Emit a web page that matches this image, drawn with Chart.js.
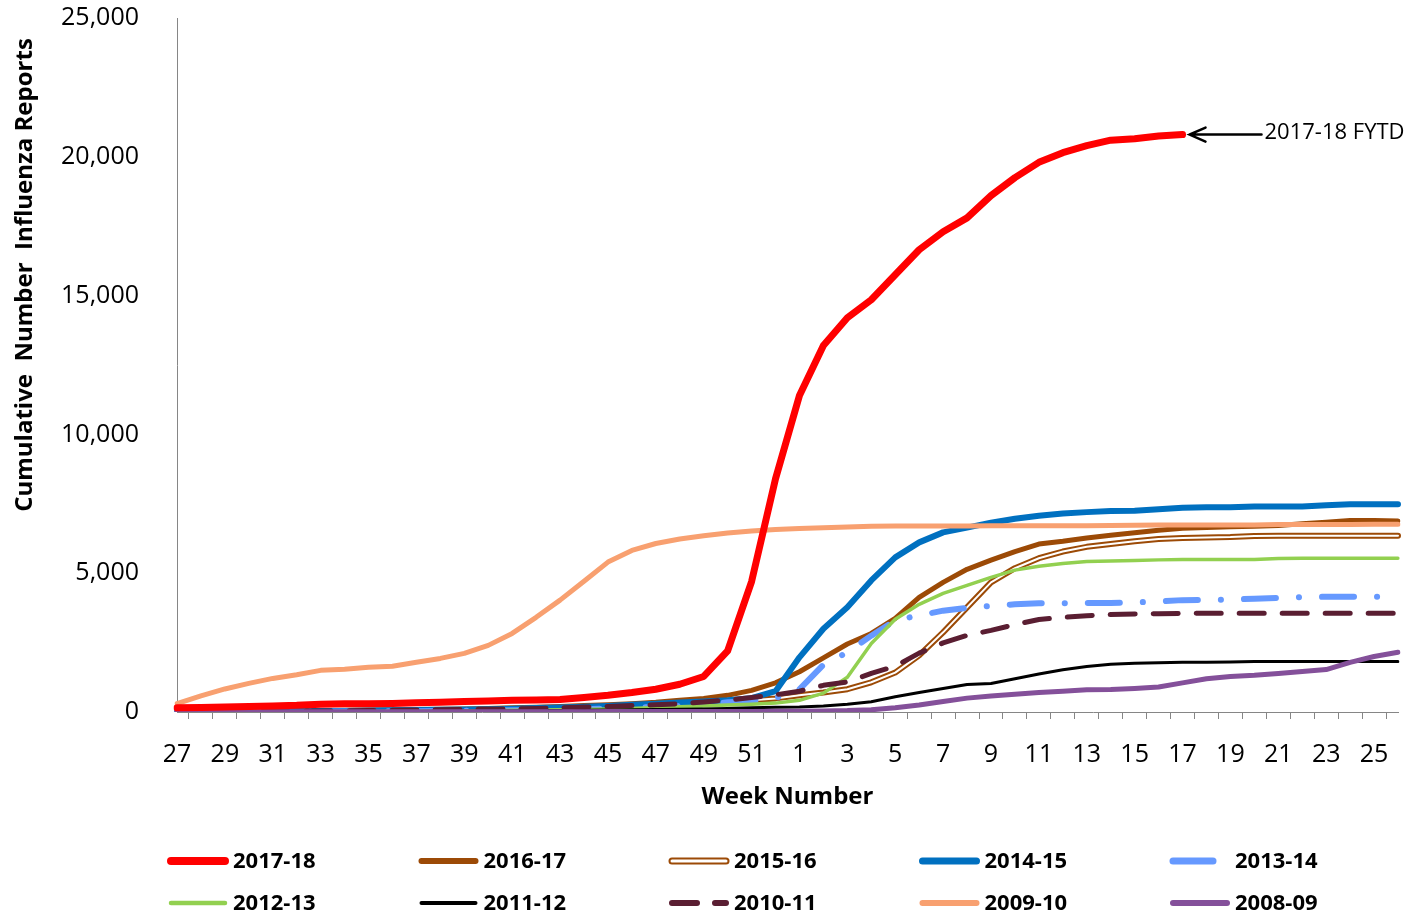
<!DOCTYPE html>
<html>
<head>
<meta charset="utf-8">
<title>Cumulative Number Influenza Reports</title>
<script src="https://cdn.jsdelivr.net/npm/chart.js@4.4.1/dist/chart.umd.min.js"></script>
<style>
    html, body { margin: 0; padding: 0; background: #ffffff; }
    #wrap { width: 1416px; height: 918px; }
</style>
</head>
<body>
<div id="wrap"><canvas id="fluChart" width="1416" height="918"></canvas></div>
<script>
// week numbers, July (27) through June (26)
const weeks = ['27','28','29','30','31','32','33','34','35','36','37','38','39','40','41','42','43','44','45','46','47','48','49','50','51','52',
               '1','2','3','4','5','6','7','8','9','10','11','12','13','14','15','16','17','18','19','20','21','22','23','24','25','26'];

// cumulative reports per season (first 26 values = wk27-52, rest = wk1-26)
const s1718 = [150,160,180,200,220,240,280,300,300,310,330,350,380,400,420,430,450,520,600,700,820,1000,1280,2200,4700,8400,
               11400,13200,14200,14850,15750,16650,17300,17800,18600,19250,19800,20150,20400,20600,20650,20750,20800];
const s1617 = [20,25,30,35,40,50,55,60,70,80,90,100,110,130,150,170,200,230,260,300,350,420,490,600,780,1050,
               1450,1950,2450,2830,3370,4130,4670,5140,5470,5780,6050,6150,6270,6370,6460,6550,6620,6650,6670,6690,6720,6780,6840,6900,6900,6880];
const s1516 = [10,10,10,20,20,20,30,30,40,40,50,60,70,80,90,100,110,130,150,170,200,240,290,350,420,490,
               600,700,820,1070,1420,2040,2870,3770,4670,5180,5540,5780,5950,6050,6150,6230,6270,6290,6300,6340,6350,6350,6350,6350,6350,6350];
const s1415 = [10,10,20,20,30,30,40,40,50,60,70,80,90,100,120,140,160,190,220,260,300,340,380,420,500,750,
               1970,3000,3770,4740,5570,6110,6470,6640,6820,6960,7070,7150,7200,7240,7250,7300,7360,7380,7380,7400,7400,7400,7450,7480,7480,7480];
const s1314 = [0,0,0,10,10,10,20,20,20,30,30,40,40,50,60,70,80,100,120,150,180,220,260,350,380,500,
               820,1700,2150,2750,3300,3480,3650,3750,3820,3880,3920,3920,3930,3930,3950,3980,4030,4040,4050,4080,4110,4140,4150,4150,4150,4150];
const s1213 = [0,0,0,10,10,10,10,20,20,20,30,30,40,50,60,70,80,90,110,130,160,190,220,250,280,320,
               420,680,1250,2470,3340,3880,4270,4560,4850,5110,5250,5350,5420,5440,5460,5480,5490,5490,5490,5490,5530,5540,5540,5540,5540,5540];
const s1112 = [0,0,0,0,10,10,10,10,20,20,20,30,30,40,40,50,50,60,70,80,90,100,110,130,150,170,
               180,220,280,370,550,700,850,990,1030,1200,1370,1520,1640,1720,1760,1770,1790,1790,1800,1820,1820,1820,1820,1820,1820,1820];
const s1011 = [10,10,20,20,30,30,40,40,50,60,70,80,90,100,110,130,150,180,200,230,260,300,360,430,520,620,
               750,960,1080,1390,1650,2120,2490,2760,2940,3150,3330,3410,3470,3510,3530,3540,3550,3560,3560,3560,3560,3560,3560,3560,3560,3560];
const s0910 = [300,580,830,1030,1210,1340,1500,1540,1610,1650,1790,1930,2110,2400,2830,3410,4030,4710,5400,5820,6070,6230,6350,6450,6520,6570,
               6610,6640,6660,6690,6700,6700,6700,6700,6710,6710,6710,6710,6710,6720,6730,6740,6740,6740,6740,6740,6750,6750,6750,6750,6760,6760];
const s0809 = [10,10,10,10,10,10,10,10,10,10,10,10,10,10,10,10,10,10,20,20,20,20,20,20,20,30,
               30,40,50,80,150,250,380,500,580,640,700,750,800,810,850,900,1050,1200,1280,1320,1390,1460,1530,1790,2000,2150];

const yTicks = [0, 5000, 10000, 15000, 20000, 25000];
const yTitle = 'Cumulative  Number  Influenza Reports';
const xTitle = 'Week Number';
const noteText = '2017-18 FYTD';

const FONT = '"Open Sans", "DejaVu Sans", sans-serif';

function line(label, data, color, width, order, extra) {
    return Object.assign({
        label: label,
        data: data,
        borderColor: color,
        backgroundColor: color,
        borderWidth: width,
        pointRadius: 0,
        pointHoverRadius: 0,
        tension: 0,
        fill: false,
        borderCapStyle: 'round',
        borderJoinStyle: 'round',
        order: order
    }, extra || {});
}

const datasets = [
    line('2017-18', s1718, '#FF0000', 7, 0),
    line('2016-17', s1617, '#9C4A06', 5, 10),
    line('2015-16', s1516, '#9C4A06', 6, 9, {double: true}),
    line('', s1516, '#FFFFFF', 2, 8, {inLegend: false}),   // white core of the double line
    line('2014-15', s1415, '#0070C0', 6, 7),
    line('2013-14', s1314, '#6699FF', 6, 6, {borderDash: [32, 23, 0.1, 23], legendDash: [40, 40]}),
    line('2012-13', s1213, '#92D050', 3.5, 5),
    line('2011-12', s1112, '#000000', 3, 4),
    line('2010-11', s1011, '#5A1E32', 5, 3, {borderDash: [25, 18]}),
    line('2009-10', s0910, '#F8A070', 5, 2),
    line('2008-09', s0809, '#84509A', 5, 1)
];

// titles, arrow note and the two-row legend
const extras = {
    id: 'extras',
    afterDraw(chart) {
        const ctx = chart.ctx;
        ctx.save();

        // y axis title
        ctx.save();
        ctx.translate(25, 275);
        ctx.rotate(-Math.PI / 2);
        ctx.font = 'bold 24px ' + FONT;
        ctx.fillStyle = '#000';
        ctx.textAlign = 'center';
        ctx.textBaseline = 'middle';
        ctx.fillText(yTitle, 0, 0);
        ctx.restore();

        // arrow pointing at the last 2017-18 point
        const meta = chart.getDatasetMeta(0);
        const last = meta.data[meta.data.length - 1];
        const ax = last.x + 7, ay = last.y;
        ctx.strokeStyle = '#000';
        ctx.lineWidth = 2.5;
        ctx.lineCap = 'round';
        ctx.beginPath();
        ctx.moveTo(ax + 72, ay);
        ctx.lineTo(ax, ay);
        ctx.moveTo(ax + 16, ay - 7);
        ctx.lineTo(ax, ay);
        ctx.lineTo(ax + 16, ay + 7);
        ctx.stroke();
        ctx.font = '22px ' + FONT;
        ctx.fillStyle = '#000';
        ctx.textAlign = 'left';
        ctx.textBaseline = 'middle';
        ctx.fillText(noteText, ax + 75, ay - 2);

        // legend
        const items = chart.data.datasets.filter(d => d.inLegend !== false);
        items.forEach((d, k) => {
            const x0 = 168 + (k % 5) * 250.5;
            const y = 861 + Math.floor(k / 5) * 42;
            ctx.save();
            ctx.strokeStyle = d.borderColor;
            ctx.lineWidth = d.borderWidth + 1;
            ctx.lineCap = 'round';
            ctx.setLineDash(d.legendDash || d.borderDash || []);
            ctx.beginPath();
            ctx.moveTo(x0 + 3, y);
            ctx.lineTo(x0 + 57, y);
            ctx.stroke();
            if (d.double) {
                ctx.strokeStyle = '#FFFFFF';
                ctx.lineWidth = 3;
                ctx.beginPath();
                ctx.moveTo(x0 + 3, y);
                ctx.lineTo(x0 + 57, y);
                ctx.stroke();
            }
            ctx.restore();
            ctx.font = 'bold 22px ' + FONT;
            ctx.fillStyle = '#000';
            ctx.textAlign = 'left';
            ctx.textBaseline = 'middle';
            ctx.fillText(d.label, x0 + 65, y + 1);
        });

        ctx.restore();
    }
};

const ctx = document.getElementById('fluChart').getContext('2d');
const fluChart = new Chart(ctx, {
    type: 'line',
    data: {
        labels: weeks,
        datasets: datasets
    },
    options: {
        responsive: false,
        animation: false,
        devicePixelRatio: 1,
        layout: { padding: { left: 0, right: 18, top: 18, bottom: 0 } },
        plugins: {
            legend: { display: false },
            tooltip: { enabled: false }
        },
        scales: {
            x: {
                offset: false,
                afterFit: function(scale) {
                    scale.height = 206;
                    scale.paddingLeft = 0;
                    scale.paddingRight = 0;
                },
                grid: {
                    offset: true,
                    drawOnChartArea: false,
                    drawTicks: true,
                    tickLength: 7,
                    color: '#868686'
                },
                border: { display: true, color: '#868686', width: 1 },
                ticks: {
                    autoSkip: false,
                    maxRotation: 0,
                    padding: 21,
                    color: '#000',
                    font: { family: FONT, size: 25 },
                    callback: function(val, i) { return i % 2 === 0 ? weeks[i] : ''; }
                },
                title: {
                    display: true,
                    text: xTitle,
                    color: '#000',
                    font: { family: FONT, size: 24, weight: 'bold' },
                    padding: { top: 0, bottom: 106 }
                }
            },
            y: {
                min: yTicks[0],
                max: yTicks[yTicks.length - 1],
                afterFit: function(scale) {
                    scale.width = 177;
                    scale.paddingTop = 0;
                    scale.paddingBottom = 0;
                },
                afterBuildTicks: function(scale) { scale.ticks = yTicks.map(v => ({ value: v })); },
                grid: { display: false },
                border: { display: true, color: '#868686', width: 1 },
                ticks: {
                    padding: 30,
                    color: '#000',
                    font: { family: FONT, size: 25 },
                    callback: function(v) { return v.toLocaleString('en-US'); }
                }
            }
        }
    },
    plugins: [extras]
});
</script>
</body>
</html>
